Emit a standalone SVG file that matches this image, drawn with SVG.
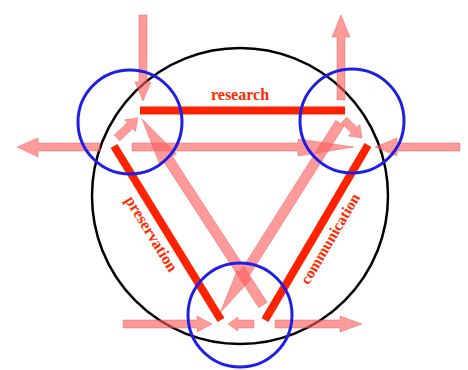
<svg xmlns="http://www.w3.org/2000/svg" width="468" height="370" viewBox="0 0 468 370">
<style>
.pa{fill:#ff5c5c;fill-opacity:0.62;stroke:#e85050;stroke-opacity:0.5;stroke-width:0.8}
.red{stroke:#ff2200;stroke-width:8;fill:none}
.blue{fill:none;stroke:#1e1ee6;stroke-width:3}
.lbl{font-family:"Liberation Serif","Times New Roman",serif;font-weight:bold;font-size:16px;fill:#ff2a00;text-anchor:middle}
</style>
<rect width="468" height="370" fill="#ffffff"/>
<g id="outer-circle">
<circle cx="240" cy="196" r="148" fill="none" stroke="#000" stroke-width="2.5"/>
</g>
<g id="connectors">
<polygon class="pa" points="139,15 147,15 147,82 151,82 143,101 135,82 139,82"/>
<polygon class="pa" points="337,100 345,100 345,37 350,37 341,15 332,37 337,37"/>
<polygon class="pa" points="100,143 100,151 38,151 38,157 17,147 38,138 38,143"/>
<polygon class="pa" points="132,143 298,143 298,139 354,147 298,156 298,151 132,151"/>
<polygon class="pa" points="460,143 460,151 397,151 397,156 375,147 397,138 397,143"/>
<polygon class="pa" points="123,320 197,320 197,316 212,324 197,332 197,328 123,328"/>
<polygon class="pa" points="254,320 254,328 238,328 238,331 228,324 238,317 238,320"/>
<polygon class="pa" points="275,320 340,320 340,316 362,324 340,332 340,328 275,328"/>
<polygon class="pa" points="119.8,140.9 132.8,128.5 135.5,131.4 138,118 124.5,119.8 127.2,122.7 114.2,135.1"/>
<polygon class="pa" points="341.2,122.8 351.4,133 348.5,135.9 362,138 359.9,124.5 357,127.4 346.8,117.2"/>
<polygon class="pa" points="267.2,302.3 172.4,156.5 176.6,153.8 142,119 159.8,164.6 164,161.9 258.8,307.7"/>
<polygon class="pa" points="344.2,125.7 248.2,277.6 250.8,279.2 220,313 237.2,270.6 239.8,272.2 335.8,120.3"/>
</g>
<g id="research">
<line class="red" x1="140" y1="110.5" x2="345" y2="110.5" stroke-width="7"/>
<text class="lbl" x="240" y="100">research</text>
</g>
<g id="preservation">
<line class="red" x1="114" y1="146" x2="221" y2="320"/>
<text class="lbl" x="147" y="236.5" transform="rotate(58.4 147 236.5)">preservation</text>
</g>
<g id="communication">
<line class="red" x1="368" y1="145" x2="265" y2="320"/>
<text class="lbl" x="334.6" y="241.4" style="font-size:15.5px" transform="rotate(-59.5 334.6 241.4)">communication</text>
</g>
<g id="node-top-left"><circle class="blue" cx="130" cy="122" r="52"/></g>
<g id="node-top-right"><circle class="blue" cx="352" cy="121" r="52"/></g>
<g id="node-bottom"><circle class="blue" cx="240" cy="315" r="52"/></g>
</svg>
